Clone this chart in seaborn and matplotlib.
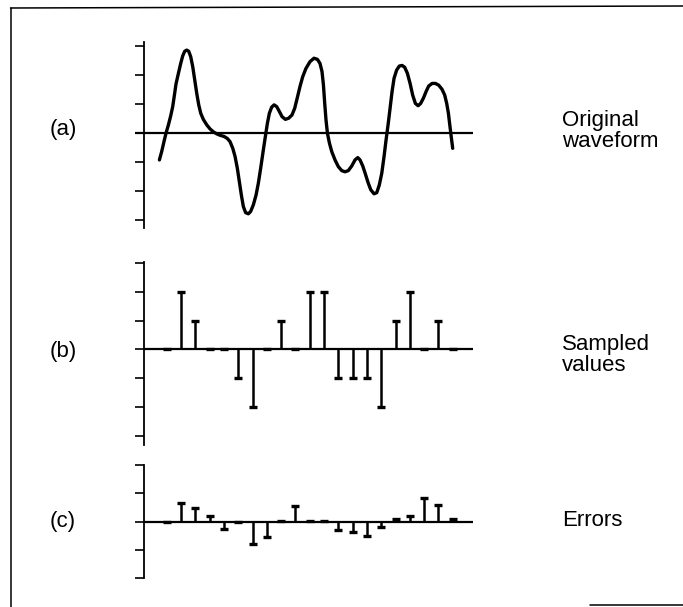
import numpy as np
import pandas as pd
import matplotlib
matplotlib.use("Agg")
import matplotlib.pyplot as plt
from matplotlib.lines import Line2D
import seaborn as sns

# ---- data -------------------------------------------------------------
# continuous analogue waveform (time in sample periods, amplitude in quantisation steps)
wave_t = [-0.51, -0.35, -0.19, -0.05, 0.12, 0.28, 0.42, 0.54, 0.65, 0.82, 0.98, 1.12,
          1.26, 1.40, 1.54, 1.68, 1.82, 1.96, 2.10, 2.24, 2.38, 2.56, 2.80, 3.03,
          3.26, 3.50, 3.73, 4.01, 4.24, 4.43, 4.62, 4.78, 4.94, 5.08, 5.22, 5.36,
          5.52, 5.71, 5.87, 6.06, 6.25, 6.41, 6.57, 6.76, 6.90, 7.04, 7.18, 7.34,
          7.51, 7.69, 7.88, 8.07, 8.30, 8.53, 8.76, 8.95, 9.14, 9.32, 9.51, 9.74,
          10.02, 10.30, 10.54, 10.72, 10.86, 10.96, 11.05, 11.14, 11.24, 11.38, 11.54, 11.77,
          12.00, 12.24, 12.47, 12.70, 12.94, 13.17, 13.36, 13.52, 13.71, 13.89, 14.08, 14.27,
          14.50, 14.69, 14.87, 15.04, 15.20, 15.34, 15.48, 15.62, 15.76, 15.90, 16.08, 16.27,
          16.46, 16.64, 16.83, 17.02, 17.20, 17.39, 17.58, 17.76, 17.95, 18.14, 18.32, 18.56,
          18.79, 19.02, 19.25, 19.44, 19.58, 19.70, 19.81, 19.91, 20.00]
wave_v = [-0.92, -0.63, -0.29, 0.00, 0.29, 0.60, 0.92, 1.32, 1.70, 2.07, 2.41, 2.67,
          2.83, 2.87, 2.83, 2.64, 2.30, 1.84, 1.38, 0.98, 0.69, 0.48, 0.29, 0.15,
          0.05, -0.02, -0.07, -0.11, -0.18, -0.29, -0.52, -0.80, -1.21, -1.67, -2.13, -2.53,
          -2.74, -2.78, -2.70, -2.47, -2.13, -1.72, -1.21, -0.57, -0.11, 0.34, 0.69, 0.90,
          0.98, 0.92, 0.75, 0.57, 0.48, 0.52, 0.63, 0.86, 1.24, 1.61, 1.95, 2.24,
          2.47, 2.59, 2.55, 2.41, 2.13, 1.67, 1.03, 0.46, 0.00, -0.34, -0.63, -0.92,
          -1.15, -1.29, -1.33, -1.29, -1.13, -0.92, -0.84, -0.92, -1.13, -1.40, -1.70, -1.95,
          -2.09, -2.05, -1.78, -1.38, -0.80, -0.23, 0.29, 0.86, 1.44, 1.90, 2.18, 2.32,
          2.34, 2.28, 2.07, 1.72, 1.32, 1.03, 0.95, 1.03, 1.21, 1.44, 1.63, 1.72,
          1.72, 1.66, 1.52, 1.32, 1.03, 0.69, 0.23, -0.17, -0.52]

# sample instants and quantised sample values
sample_n = list(range(21))
sampled = [0, 2, 1, 0, 0, -1, -2, 0, 1, 0, 2, 2, -1, -1, -1, -2, 1, 2, 0, 1, 0]

# quantisation error at each sample
errors = [0.0, 0.65, 0.49, 0.20, -0.25, 0.0, -0.78, -0.56, 0.03, 0.55, 0.03,
          0.02, -0.29, -0.36, -0.53, -0.21, 0.08, 0.20, 0.82, 0.58, 0.08]

panel_tags = ["(a)", "(b)", "(c)"]
panel_names = ["Original\nwaveform", "Sampled\nvalues", "Errors"]

# ---- style ------------------------------------------------------------
sns.set_theme(style="white")
plt.rcParams["font.family"] = ["Liberation Sans", "DejaVu Sans"]

W, H = 683, 607
fig = plt.figure(figsize=(W / 100, H / 100), dpi=100)
fig.patch.set_facecolor("white")


def px_axes(left, top, right, bottom):
    return fig.add_axes([left / W, 1 - bottom / H, (right - left) / W, (bottom - top) / H])


X0, X1 = 135, 473          # horizontal extent of each panel in pixels
T0, DT = 166.7, 14.3       # pixel of first sample, pixels per sample period
xlim = ((X0 - T0) / DT, (X1 - T0) / DT)
x_spine = (144 - T0) / DT

ink = "black"


def setup(ax, ylim, ticks):
    ax.set_xlim(*xlim)
    ax.set_ylim(*ylim)
    ax.set_facecolor("none")
    for s in ("top", "right", "bottom"):
        ax.spines[s].set_visible(False)
    ax.spines["left"].set_position(("data", x_spine))
    ax.spines["left"].set_color(ink)
    ax.spines["left"].set_linewidth(1.3)
    ax.set_xticks([])
    ax.set_yticks(ticks)
    ax.set_yticklabels([])
    ax.tick_params(axis="y", direction="out", length=6.5, width=1.2,
                   color=ink, left=True)
    ax.set_xlabel("")
    ax.set_ylabel("")


def stems(ax, n, vals):
    ax.vlines(n, 0, vals, color=ink, lw=1.8, zorder=3)
    sns.scatterplot(x=n, y=vals, marker="_", s=32, linewidth=2.4,
                    color=ink, ax=ax, zorder=4, legend=False)


# (a) original waveform
ax_a = px_axes(X0, 41.7, X1, 228)
setup(ax_a, (-3.27, 3.16), [-3, -2, -1, 0, 1, 2, 3])
ax_a.axhline(0, color=ink, lw=1.6, zorder=2)
sns.lineplot(x=wave_t, y=wave_v, sort=False, color=ink, lw=2.4, ax=ax_a,
             zorder=3, solid_joinstyle="round", solid_capstyle="round")

# (b) sampled values
ax_b = px_axes(X0, 261.7, X1, 445)
setup(ax_b, (-3.33, 3.05), [-3, -2, -1, 0, 1, 2, 3])
ax_b.hlines(0, x_spine, xlim[1], color=ink, lw=1.6, zorder=2)
stems(ax_b, sample_n, sampled)

# (c) quantisation errors
ax_c = px_axes(X0, 465, X1, 578)
setup(ax_c, (-2, 2), [-2, -1, 0, 1, 2])
ax_c.hlines(0, x_spine, xlim[1], color=ink, lw=1.6, zorder=2)
stems(ax_c, sample_n, errors)

# panel labels
fs = 16
for tag, yc in zip(panel_tags, [129, 352, 521]):
    fig.text(63 / W, 1 - yc / H, tag, ha="center", va="center", fontsize=fs, color=ink)
for name, yc in zip(panel_names, [131, 355, 521]):
    fig.text(562 / W, 1 - yc / H, name, ha="left", va="center", fontsize=fs,
             color=ink, linespacing=0.95)

# border around the figure
border = [([10.5, 10.5], [607, 8]), ([10.5, 683], [8, 6]), ([590, 683], [605, 605])]
for xs, ys in border:
    fig.add_artist(Line2D([x / W for x in xs], [1 - y / H for y in ys],
                          color=ink, lw=1.1))

fig.savefig("out.png", dpi=100, facecolor="white")
